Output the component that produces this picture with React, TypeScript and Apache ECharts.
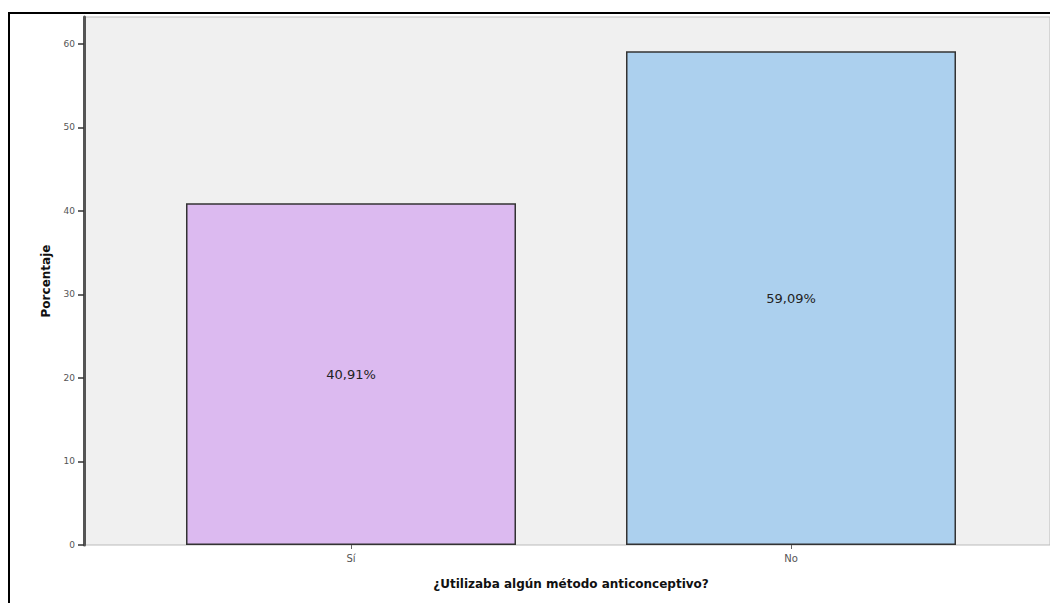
import React, { useEffect, useRef } from "react";
import * as echarts from "echarts";

const categories = ["Sí", "No"];
const percentValues = [40.91, 59.09];
const barLabels = ["40,91%", "59,09%"];
const barColors = ["#dcbaf0", "#acd0ee"];
const yTicks = [0, 10, 20, 30, 40, 50, 60];

export default function App() {
  const ref = useRef<HTMLDivElement>(null);
  useEffect(() => {
    if (!ref.current) return;
    const chart = echarts.init(ref.current, null, { renderer: "svg" });
    chart.setOption({
      animation: false,
      backgroundColor: "#ffffff",
      graphic: [
        {
          type: "rect",
          shape: { x: 1, y: 5, width: 1070, height: 620 },
          style: { fill: "none", stroke: "#000", lineWidth: 2 },
          z: 10,
        },
      ],
      grid: [
        {
          left: 76,
          right: -5,
          top: 9,
          bottom: 58,
          show: true,
          backgroundColor: "#f0f0f0",
          borderColor: "#bbb",
          borderWidth: 1,
        },
        {
          left: 123,
          right: 39,
          top: 9,
          bottom: 58,
        },
      ],
      xAxis: [
        {
          gridIndex: 0,
          type: "category",
          data: categories,
          show: false,
        },
        {
          gridIndex: 1,
          type: "category",
          data: categories,
          axisLine: { show: false },
          axisTick: { show: true, length: 4, lineStyle: { color: "#666" }, alignWithLabel: true },
          axisLabel: { color: "#555", fontSize: 10, fontFamily: "DejaVu Sans", margin: 8 },
          name: "¿Utilizaba algún método anticonceptivo?",
          nameLocation: "middle",
          nameGap: 33,
          nameTextStyle: { color: "#111", fontSize: 12, fontWeight: "bold", fontFamily: "DejaVu Sans" },
        },
      ],
      yAxis: [
        {
          gridIndex: 0,
          type: "value",
          min: 0,
          max: 63.2,
          interval: 10,
          axisLine: { show: true, lineStyle: { color: "#555", width: 3 } },
          axisTick: { show: true, length: 6, lineStyle: { color: "#333", width: 1.5 } },
          axisLabel: {
            color: "#555",
            fontSize: 9,
            fontFamily: "DejaVu Sans",
            margin: 9,
            showMaxLabel: false,
            formatter: (v: number) => (yTicks.includes(v) ? String(v) : ""),
          },
          splitLine: { show: false },
          name: "Porcentaje",
          nameLocation: "middle",
          nameGap: 32,
          nameTextStyle: { color: "#111", fontSize: 12, fontWeight: "bold", fontFamily: "DejaVu Sans" },
        },
        {
          gridIndex: 1,
          type: "value",
          min: 0,
          max: 63.2,
          interval: 10,
          show: false,
          splitLine: { show: false },
        },
      ],
      series: [
        {
          type: "bar",
          xAxisIndex: 1,
          yAxisIndex: 1,
          barWidth: 330,
          data: percentValues.map((v, i) => ({
            value: v,
            itemStyle: { color: barColors[i], borderColor: "#333", borderWidth: 1.5 },
          })),
          label: {
            show: true,
            position: "inside",
            color: "#222",
            fontSize: 13,
            fontFamily: "DejaVu Sans",
            formatter: (p: any) => barLabels[p.dataIndex],
          },
        },
      ],
    });
    return () => chart.dispose();
  }, []);
  return <div ref={ref} style={{ width: 1042, height: 595 }} />;
}
